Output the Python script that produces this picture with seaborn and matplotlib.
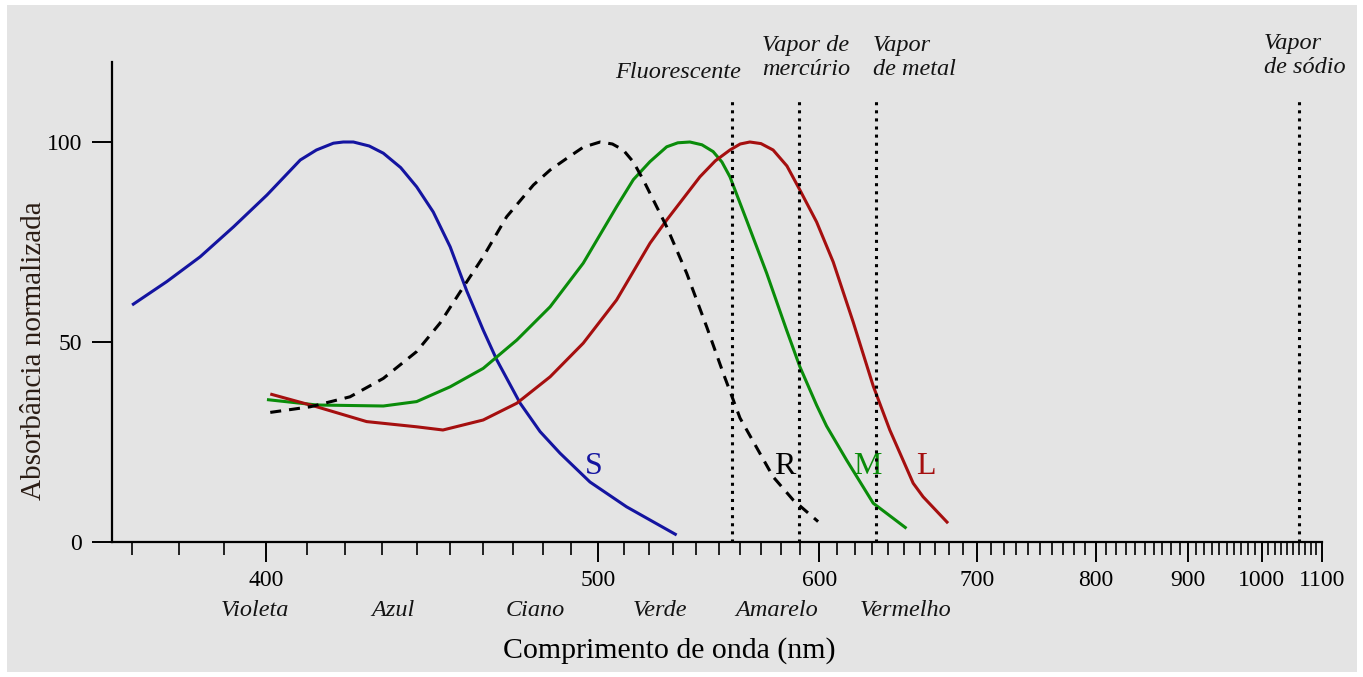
import numpy as np
import pandas as pd
import matplotlib
matplotlib.use("Agg")
import matplotlib.pyplot as plt
import seaborn as sns
from matplotlib.patches import Rectangle
from matplotlib.ticker import FixedLocator, NullFormatter

# ---------------- data (wavelength nm, normalised absorbance) ----------------
s_wl = [370.1, 377.4, 384.7, 392.3, 400.2, 408.4, 412.5, 416.9, 419.5, 422.2, 426.5,
        430.4, 435.3, 439.9, 444.8, 449.9, 455.0, 460.2, 464.6, 472.3, 479.1, 486.1,
        497.0, 511.0, 531.5]
s_abs = [59.25, 65.1, 71.3, 78.8, 86.75, 95.5, 98.0, 99.7, 100.0, 100.0, 99.0,
         97.2, 93.6, 88.8, 82.5, 73.8, 62.8, 53.0, 45.5, 34.7, 27.6, 22.2,
         15.0, 8.8, 1.75]

r_wl = [401.0, 410.9, 421.3, 430.4, 439.9, 446.8, 454.0, 460.2, 467.8, 476.8, 482.6,
        488.5, 494.5, 500.8, 505.5, 509.7, 513.7, 517.7, 527.3, 535.8, 544.6, 552.1,
        559.9, 576.0, 586.2, 599.4]
r_abs = [32.4, 33.8, 36.3, 40.9, 47.6, 54.7, 63.8, 71.3, 81.3, 89.25, 93.0,
         95.9, 98.7, 100.0, 99.5, 98.0, 95.0, 90.5, 78.8, 67.2, 53.8, 42.2,
         31.0, 16.3, 10.5, 5.1]

m_wl = [400.2, 412.6, 430.4, 439.9, 449.9, 460.2, 471.2, 482.6, 494.5, 507.1, 513.7,
        520.4, 527.3, 532.0, 537.2, 542.5, 547.5, 551.5, 555.2, 563.0, 572.8, 582.8,
        589.7, 598.6, 604.0, 615.2, 630.8, 651.4]
m_abs = [35.6, 34.25, 34.0, 35.1, 38.8, 43.4, 50.5, 58.8, 69.7, 83.8, 90.6,
         95.1, 98.8, 99.8, 100.0, 99.3, 97.6, 95.0, 91.3, 80.5, 67.2, 53.0,
         43.8, 34.2, 29.0, 20.5, 9.7, 3.4]

l_wl = [401.0, 412.6, 425.8, 439.9, 447.7, 460.2, 471.2, 482.6, 494.5, 507.1, 520.4,
        527.3, 541.6, 548.5, 555.2, 560.0, 564.6, 570.0, 576.0, 583.0, 589.7, 598.6,
        607.7, 619.0, 630.8, 640.9, 655.7, 662.2, 679.1]
l_abs = [37.0, 33.8, 30.1, 28.8, 28.0, 30.5, 34.7, 41.3, 49.7, 60.5, 74.7,
         80.5, 91.3, 95.3, 98.0, 99.5, 100.0, 99.6, 98.0, 94.0, 88.0, 80.0,
         70.0, 55.0, 39.0, 28.0, 14.7, 11.3, 4.7]

lamp_wl = [556.0, 589.3, 632.2, 1059.5]

x_major = [400, 500, 600, 700, 800, 900, 1000, 1100]
x_major_labels = ["400", "500", "600", "700", "800", "900", "1000", "1100"]
y_ticks = [0, 50, 100]

color_names = ["Violeta", "Azul", "Ciano", "Verde", "Amarelo", "Vermelho"]
color_name_wl = [397.4, 433.1, 477.4, 524.5, 577.9, 651.0]

curve_names = ["S", "R", "M", "L"]
curve_name_wl = [498.5, 581.9, 627.6, 664.0]

# ---------------- style ----------------
W, H = 1363, 677
BG = "#e4e4e4"
BLUE, GREEN, RED, BLACK = "#1414a0", "#0a8c0a", "#a50f0f", "#000000"

sns.set_theme(style="white")
plt.rcParams["font.family"] = ["Liberation Serif", "DejaVu Serif"]

fig = plt.figure(figsize=(W / 100, H / 100), dpi=100)
fig.patch.set_facecolor("white")
fig.patches.append(Rectangle((7 / W, 5 / H), (W - 13) / W, (H - 10) / H,
                             transform=fig.transFigure, facecolor=BG,
                             edgecolor="none", zorder=-10))

ax = fig.add_axes([112 / W, 135 / H, 1210 / W, 480 / H])
ax.set_facecolor("none")

df = pd.concat([
    pd.DataFrame({"wl": s_wl, "abs": s_abs, "cone": "S"}),
    pd.DataFrame({"wl": r_wl, "abs": r_abs, "cone": "R"}),
    pd.DataFrame({"wl": m_wl, "abs": m_abs, "cone": "M"}),
    pd.DataFrame({"wl": l_wl, "abs": l_abs, "cone": "L"}),
])

for cone, col in [("S", BLUE), ("M", GREEN), ("L", RED)]:
    d = df[df["cone"] == cone]
    sns.lineplot(data=d, x="wl", y="abs", ax=ax, color=col, lw=2.2,
                 sort=False, estimator=None, zorder=3,
                 solid_joinstyle="round", solid_capstyle="butt")
d = df[df["cone"] == "R"]
sns.lineplot(data=d, x="wl", y="abs", ax=ax, color=BLACK, lw=2.2,
             sort=False, estimator=None, linestyle=(0, (3.6, 2.6)), zorder=3)


def fwd(x):
    with np.errstate(divide="ignore", invalid="ignore"):
        return -1.0 / np.asarray(x, dtype=float)


ax.set_xscale("function", functions=(fwd, fwd))
ax.set_xlim(366, 1100)
ax.set_ylim(0, 120)

ax.vlines(lamp_wl, 0, 110.5, colors="black", lw=2.2,
          linestyles=[(0, (1, 1.65))], zorder=5)

# axes styling
for side in ["top", "right"]:
    ax.spines[side].set_visible(False)
for side in ["left", "bottom"]:
    ax.spines[side].set_linewidth(1.6)
    ax.spines[side].set_color("black")

ax.xaxis.set_major_locator(FixedLocator(x_major))
ax.set_xticklabels(x_major_labels)
minor = [v for v in range(370, 1100, 10) if v not in x_major]
ax.xaxis.set_minor_locator(FixedLocator(minor))
ax.xaxis.set_minor_formatter(NullFormatter())
ax.set_yticks(y_ticks)
ax.set_yticklabels([str(v) for v in y_ticks])

ax.tick_params(axis="x", which="major", direction="out", length=14.4, width=1.4,
               pad=5.5, labelsize=17, colors="black", bottom=True)
ax.tick_params(axis="x", which="minor", direction="out", length=9.4, width=1.2,
               colors="black", bottom=True)
ax.tick_params(axis="y", which="major", direction="out", length=14.4, width=1.4,
               pad=7, labelsize=17, colors="black", left=True)

ax.set_xlabel("Comprimento de onda (nm)", fontsize=21.5, color="black")
ax.xaxis.set_label_coords(0.461, -0.198)
ax.set_ylabel("Absorbância normalizada", fontsize=21, color="#2a1c14")
ax.yaxis.set_label_coords(-0.054, 0.398)

# colour names under the axis
for name, wl in zip(color_names, color_name_wl):
    ax.text(wl, -17.25, name, ha="center", va="center", fontsize=17.5,
            style="italic", color="#141414", clip_on=False)

# curve labels
for name, wl, col in zip(curve_names, curve_name_wl, [BLUE, BLACK, GREEN, RED]):
    ax.text(wl, 18.75, name, ha="center", va="center", fontsize=23,
            color=col, clip_on=False)

# lamp labels
lamp_kw = dict(fontsize=17.5, style="italic", color="#141414", clip_on=False,
               va="center", linespacing=1.2)
ax.text(532.0, 117.25, "Fluorescente", ha="center", **lamp_kw)
ax.text(592.9, 121.2, "Vapor de\nmercúrio", ha="center", **lamp_kw)
ax.text(630.6, 121.2, "Vapor\nde metal", ha="left", **lamp_kw)
ax.text(1003.0, 121.7, "Vapor\nde sódio", ha="left", **lamp_kw)

fig.savefig("out.png", dpi=100, facecolor=fig.get_facecolor())
